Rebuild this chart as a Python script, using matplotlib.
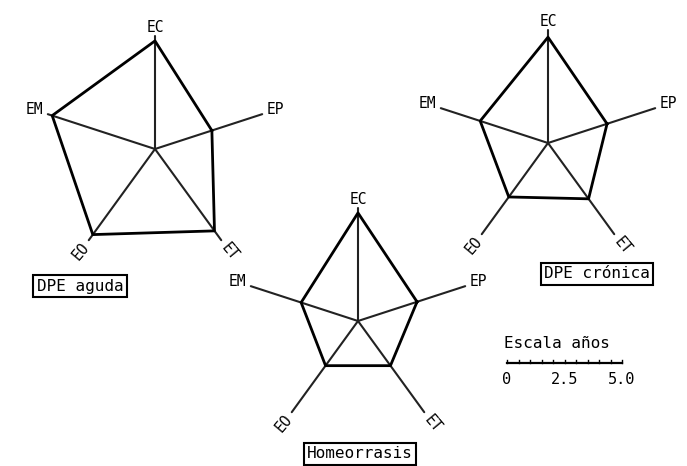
import numpy as np
import matplotlib
matplotlib.use("Agg")
import matplotlib.pyplot as plt

# axes of each star, counter-clockwise from EP
axes_names = ["EP", "EC", "EM", "EO", "ET"]
angles_deg = [18, 90, 162, 234, 306]

# values in years (scale bar 0-5.0)
dpe_aguda = [2.6, 4.7, 4.7, 4.6, 4.4]
dpe_cronica = [2.7, 4.6, 3.1, 2.9, 3.0]
homeorrasis = [2.7, 4.7, 2.6, 2.4, 2.4]
titles = ["DPE aguda", "DPE crónica", "Homeorrasis"]

axis_len = 4.9
scale_ticks = [0, 2.5, 5.0]

PX = 23.0  # pixels per year in the original image
W, H = 687, 466

fig = plt.figure(figsize=(W / 100, H / 100), dpi=100)
ax = fig.add_axes([0, 0, 1, 1])
ax.set_xlim(0, W / PX)
ax.set_ylim(0, H / PX)
ax.axis("off")

FONT = "DejaVu Sans Mono"


def to_data(px, py):
    return px / PX, (H - py) / PX


def star(center_px, values, title, box_px):
    cx, cy = to_data(*center_px)
    th = np.radians(angles_deg)
    v = np.array(values)
    # spokes
    for t, val, name in zip(th, v, axes_names):
        r = max(axis_len, val)
        ax.plot([cx, cx + r * np.cos(t)], [cy, cy + r * np.sin(t)],
                color="#222222", lw=1.5, solid_capstyle="round")
        lr = 5.5 if name != "EC" else 5.3
        rot = {"EO": 50, "ET": -50}.get(name, 0)
        ax.text(cx + lr * np.cos(t), cy + lr * np.sin(t), name,
                ha="center", va="center", fontsize=10.5, family=FONT,
                rotation=rot)
    # polygon
    xs = cx + v * np.cos(th)
    ys = cy + v * np.sin(th)
    ax.plot(np.append(xs, xs[0]), np.append(ys, ys[0]),
            color="black", lw=2.0, solid_joinstyle="round")
    bx, by = to_data(*box_px)
    ax.text(bx, by, title, ha="center", va="center", fontsize=11.5,
            family=FONT,
            bbox=dict(boxstyle="square,pad=0.2", fc="white", ec="black", lw=1.5))


star((155, 149), dpe_aguda, titles[0], (80, 286))
star((548, 143), dpe_cronica, titles[1], (597, 274))
star((358, 321), homeorrasis, titles[2], (360, 454))

# scale bar
sx, sy = to_data(507, 363)
ax.plot([sx, sx + scale_ticks[-1]], [sy, sy], color="black", lw=1.6)
for t in np.arange(0, scale_ticks[-1] + 0.01, 0.5):
    ax.plot([sx + t, sx + t], [sy, sy + 0.12], color="black", lw=1.0)
for t in scale_ticks:
    ax.text(sx + t, sy - 0.7, f"{t:g}" if t == 0 else f"{t:.1f}",
            ha="center", va="center", fontsize=11, family=FONT)
ax.text(sx - 0.15, sy + 0.85, "Escala años", ha="left", va="center",
        fontsize=11.5, family=FONT)

fig.savefig("out.png", dpi=100, facecolor="white")
